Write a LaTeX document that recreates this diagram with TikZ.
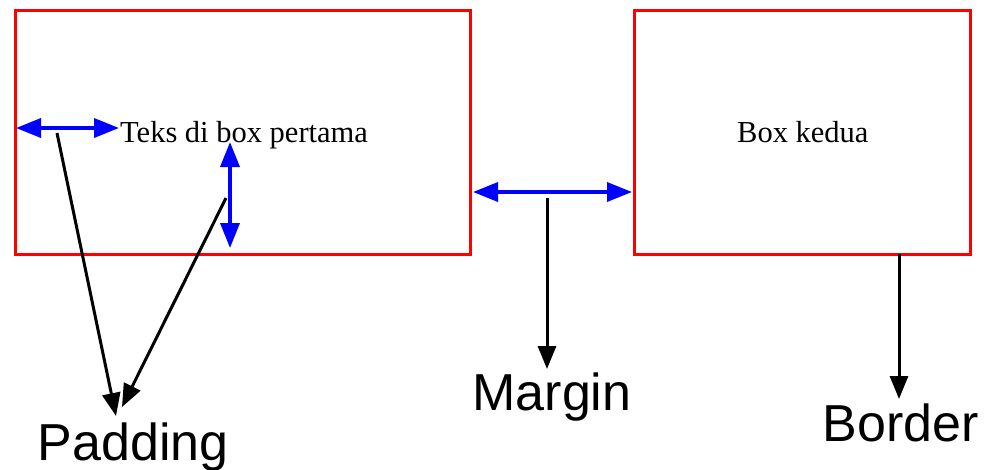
\documentclass[tikz,border=0pt]{standalone}
\usepackage{fontspec}
\setmainfont{Liberation Serif}
\newfontfamily\arialfont{Liberation Sans}
\usetikzlibrary{arrows.meta}
\begin{document}
\begin{tikzpicture}[x=1pt,y=-1pt,
 boxstyle/.style={draw=red, line width=3pt, inner sep=0pt},
 bluearrow/.style={draw=blue, line width=3.5pt, {Triangle[length=25pt,width=19pt]}-{Triangle[length=25pt,width=19pt]}},
 blackarrow/.style={draw=black, line width=3pt, -{Triangle[length=23pt,width=18pt]}},
 biglabel/.style={font=\arialfont\fontsize{52}{52}\selectfont, inner sep=0pt, anchor=base},
 smalltext/.style={font=\fontsize{30.5}{30.5}\selectfont, inner sep=0pt, anchor=base west}]
\useasboundingbox (0,0) rectangle (986,469);
\node[boxstyle, minimum width=455pt, minimum height=244pt] (b1) at (242.5,132) {};
\node[boxstyle, minimum width=336pt, minimum height=244pt] (b2) at (802,132) {};
\node[smalltext] (t1) at (120,142) {Teks di box pertama};
\node[smalltext] (t2) at (737,142) {Box kedua};
\node[biglabel] (padding) at (133,460) {Padding};
\node[biglabel] (margin) at (552,410) {Margin};
\node[biglabel] (border) at (901,441) {Border};
% blue arrows
\coordinate (p1a) at (16,128);
\coordinate (p1b) at (119,128);
\coordinate (p2a) at (230,142);
\coordinate (p2b) at (230,248);
\coordinate (m1) at (473,192);
\coordinate (m2) at (632,192);
\draw[bluearrow] (p1a) -- (p1b);
\draw[bluearrow] (p2a) -- (p2b);
\draw[bluearrow] (m1) -- (m2);
% black arrows
\coordinate (s1) at (57,133);
\coordinate (e1) at (116,416);
\coordinate (s2) at (226,198);
\coordinate (e2) at (122,407);
\coordinate (s3) at (547,198);
\coordinate (e3) at (547,369);
\coordinate (s4) at (899,254);
\coordinate (e4) at (899,399);
\draw[blackarrow] (s1) -- (e1);
\draw[blackarrow] (s2) -- (e2);
\draw[blackarrow] (s3) -- (e3);
\draw[blackarrow] (s4) -- (e4);
\end{tikzpicture}
\end{document}
